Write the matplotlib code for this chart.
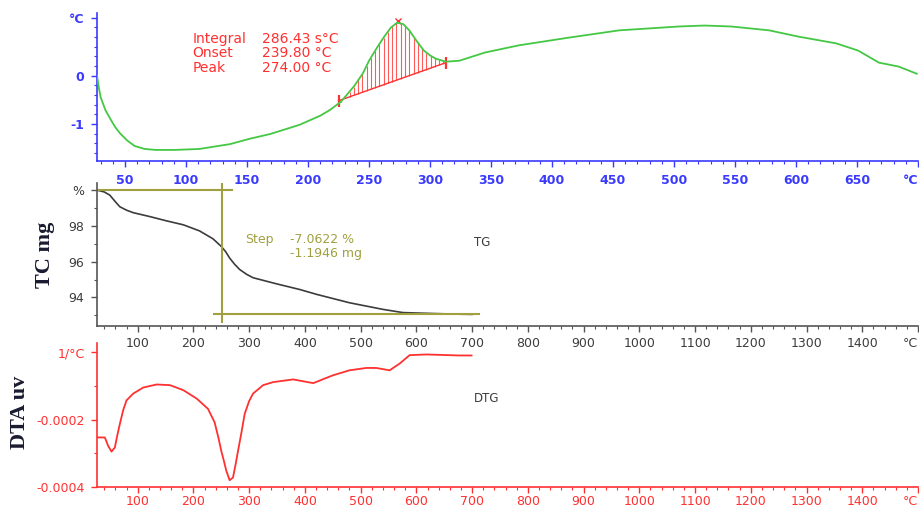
import numpy as np
import matplotlib.pyplot as plt
from matplotlib.ticker import MultipleLocator

# DTA curve (top panel), temperature in °C vs signal in °C
dta_t = [27, 28.5, 30, 34, 38, 42, 46, 52, 58, 66, 75, 91, 111, 136, 152, 169, 193, 210,
         218, 227, 238, 245, 250, 257, 263, 268, 273, 278, 283, 289, 295, 300, 305, 313,
         324, 345, 373, 414, 455, 504, 525, 547, 578, 602, 633, 651, 668, 684, 699]
dta_v = [0.0, -0.25, -0.45, -0.72, -0.9, -1.07, -1.2, -1.35, -1.46, -1.52, -1.54, -1.54,
         -1.52, -1.42, -1.31, -1.21, -1.02, -0.83, -0.71, -0.54, -0.21, 0.05, 0.31, 0.6,
         0.83, 1.0, 1.1, 1.07, 0.94, 0.72, 0.52, 0.42, 0.35, 0.29, 0.31, 0.48, 0.63, 0.79,
         0.94, 1.02, 1.04, 1.02, 0.94, 0.81, 0.67, 0.52, 0.27, 0.19, 0.04]
peak_t, peak_v = 274, 1.1
base_t = [225, 313]
base_v = [-0.52, 0.27]

# TG curve (middle panel), %
tg_t = [27, 40, 50, 60, 68, 80, 92, 122, 152, 182, 211, 235, 250, 258, 265, 274, 283,
        295, 307, 349, 391, 421, 480, 540, 576, 629, 677, 700]
tg_v = [100.0, 99.9, 99.72, 99.35, 99.07, 98.88, 98.74, 98.52, 98.28, 98.06, 97.72, 97.28,
        96.85, 96.55, 96.2, 95.85, 95.56, 95.3, 95.1, 94.76, 94.44, 94.17, 93.7, 93.33,
        93.15, 93.1, 93.06, 93.05]
step_top, step_bottom = 100.0, 93.06

# DTG curve (bottom panel)
dtg_t = [27, 41, 44, 47, 53, 59, 63, 68, 74, 80, 92, 110, 134, 158, 182, 206, 226, 238,
         245, 250, 255, 259, 265, 271, 276, 280, 286, 292, 300, 307, 325, 343, 379, 415,
         450, 480, 510, 528, 552, 570, 588, 618, 677, 699]
dtg_v = [-0.000253, -0.000253, -0.000265, -0.000278, -0.000295, -0.000283, -0.00025,
         -0.000213, -0.000172, -0.000143, -0.000123, -0.000105, -0.000096, -0.000098,
         -0.000113, -0.000138, -0.000168, -0.000208, -0.000255, -0.000293, -0.000325,
         -0.000352, -0.00038, -0.000372, -0.00033, -0.000293, -0.00024, -0.000183,
         -0.000145, -0.000123, -0.000098, -0.000089, -0.000081, -0.000092, -0.000069,
         -0.000054, -0.000047, -0.000047, -0.000054, -0.000034, -0.000009, -0.000007,
         -0.00001, -0.00001]

blue = '#3a3aff'
green = '#44c844'
red = '#ff3030'
olive = '#a0a040'
dark = '#3c3c3c'

W, H = 920, 509
fig = plt.figure(figsize=(W / 100, H / 100), dpi=100)


def px_axes(left, top, right, bottom):
    return fig.add_axes([left / W, 1 - bottom / H, (right - left) / W, (bottom - top) / H])


def style(ax, color, tick_color):
    for s in ['top', 'right']:
        ax.spines[s].set_visible(False)
    for s in ['left', 'bottom']:
        ax.spines[s].set_color(color)
        ax.spines[s].set_linewidth(1.2)
    ax.tick_params(which='both', colors=color, labelcolor=tick_color, labelsize=9, direction='out')
    ax.tick_params(which='major', length=4, width=1, pad=5)
    ax.tick_params(which='minor', length=2.5, width=0.8)
    ax.patch.set_alpha(0)
    # unit label sits at the last tick, pulled in from the edge
    ax.get_xticklabels()[-1].set_horizontalalignment('right')


# ---- top panel: DTA ----
ax1 = px_axes(97, 13, 918, 161)
ax1.plot(dta_t, dta_v, color=green, lw=1.3, zorder=3)
hatch_t = np.arange(base_t[0] + 2, base_t[1], 3.5)
ax1.vlines(hatch_t, np.interp(hatch_t, base_t, base_v), np.interp(hatch_t, dta_t, dta_v),
           color=red, lw=0.8, alpha=0.8)
ax1.plot(base_t, base_v, color=red, lw=1)
ax1.plot(base_t, base_v, '|', color=red, ms=9, mew=1.6)
ax1.plot([peak_t], [peak_v + 0.04], 'x', color=red, ms=4, mew=1)
ax1.set_xlim(27, 700)
ax1.set_ylim(-1.77, 1.3)
ax1.set_xticks(range(50, 701, 50))
ax1.set_xticklabels([str(v) for v in range(50, 700, 50)] + ['°C'])
ax1.xaxis.set_minor_locator(MultipleLocator(10))
ax1.set_yticks([-1, 0, 1.2])
ax1.set_yticklabels(['-1', '0', '°C'])
ax1.yaxis.set_minor_locator(MultipleLocator(0.2))
style(ax1, blue, blue)
ax1.tick_params(axis='x', pad=5)
for lab in ax1.get_xticklabels() + ax1.get_yticklabels():
    lab.set_fontweight('bold')
for i, (name, val) in enumerate([('Integral', '286.43 s°C'), ('Onset', '239.80 °C'),
                                 ('Peak', '274.00 °C')]):
    y = 0.77 - i * 0.31
    ax1.text(105, y, name, color=red, fontsize=10, va='center')
    ax1.text(162, y, val, color=red, fontsize=10, va='center')

# ---- middle panel: TG ----
ax2 = px_axes(97, 183, 918, 326)
ax2.plot(tg_t, tg_v, color=dark, lw=1.2)
ax2.plot([27, 269], [step_top, step_top], color=olive, lw=1.5)
ax2.plot([251, 251], [100.4, 92.6], color=olive, lw=1.5)
ax2.plot([237, 713], [step_bottom, step_bottom], color=olive, lw=1.5)
ax2.set_xlim(27, 1500)
ax2.set_ylim(92.4, 100.4)
ax2.set_xticks(range(100, 1501, 100))
ax2.set_xticklabels([str(v) for v in range(100, 1500, 100)] + ['°C'])
ax2.xaxis.set_minor_locator(MultipleLocator(20))
ax2.set_yticks([94, 96, 98, 100])
ax2.set_yticklabels(['94', '96', '98', '%'])
ax2.yaxis.set_minor_locator(MultipleLocator(1))
style(ax2, '#555555', dark)
ax2.tick_params(axis='x', pad=4)
ax2.text(292, 97.22, 'Step', color=olive, fontsize=9, va='center')
ax2.text(373, 97.22, '-7.0622 %', color=olive, fontsize=9, va='center')
ax2.text(373, 96.44, '-1.1946 mg', color=olive, fontsize=9, va='center')
ax2.text(704, 97.06, 'TG', color=dark, fontsize=8.5, va='center')

# ---- bottom panel: DTG ----
ax3 = px_axes(97, 343, 918, 487)
ax3.plot(dtg_t, dtg_v, color=red, lw=1.3)
ax3.set_xlim(27, 1500)
ax3.set_ylim(-0.0004, 0.000027)
ax3.set_xticks(range(100, 1501, 100))
ax3.set_xticklabels([str(v) for v in range(100, 1500, 100)] + ['°C'])
ax3.xaxis.set_minor_locator(MultipleLocator(20))
ax3.set_yticks([-0.0004, -0.0002, 0])
ax3.set_yticklabels(['-0.0004', '-0.0002', '1/°C'])
ax3.yaxis.set_minor_locator(MultipleLocator(0.0001))
style(ax3, red, red)
ax3.tick_params(axis='x', pad=2)
ax3.text(704, -0.000137, 'DTG', color=dark, fontsize=8.5, va='center')

fig.text(45 / W, 1 - 255 / H, 'TC mg', rotation=90, ha='center', va='center',
         family='Liberation Serif', fontweight='bold', fontsize=16, color='#1a1a30')
fig.text(20 / W, 1 - 412 / H, 'DTA uv', rotation=90, ha='center', va='center',
         family='Liberation Serif', fontweight='bold', fontsize=16, color='#1a1a30')

fig.savefig('out.png', dpi=100)
